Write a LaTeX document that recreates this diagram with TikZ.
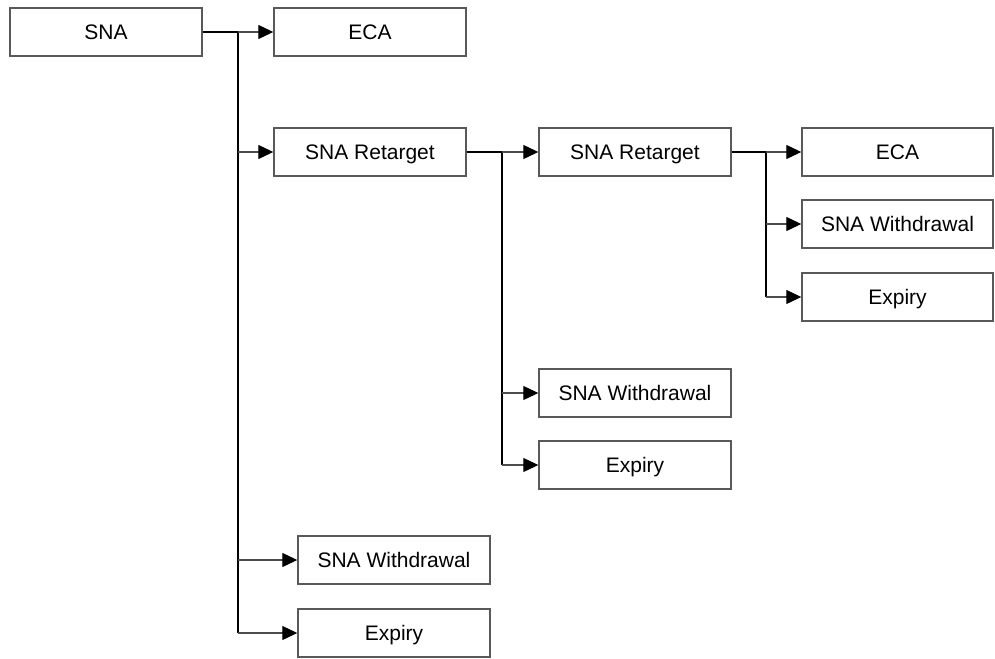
\documentclass[tikz,border=0pt]{standalone}
\usepackage{fontspec}
\setmainfont{Liberation Sans}
\usetikzlibrary{arrows.meta}
\begin{document}
\begin{tikzpicture}[x=1pt,y=-1pt,
  box/.style={draw=black!65,line width=1.4pt,fill=white,minimum width=192pt,minimum height=48pt,inner sep=0pt,
    text height=19pt,text depth=4pt,font=\fontsize{21}{25}\selectfont},
  rbox/.style={box,minimum width=191pt},
  link/.style={draw=black,line width=1.7pt},
  branch/.style={draw=black!70,line width=1.1pt,-{Triangle[length=15pt,width=14pt,color=black,fill=black]}}]
\useasboundingbox (0,0) rectangle (995,658);
\node[box] (sna) at (106,32) {SNA};
\node[box] (eca1) at (370,32) {ECA};
\node[box] (ret1) at (370,152) {SNA Retarget};
\node[box] (ret2) at (635,152) {SNA Retarget};
\node[rbox] (eca2) at (897.5,152) {ECA};
\node[rbox] (wd2) at (897.5,224) {SNA Withdrawal};
\node[rbox] (ex2) at (897.5,297) {Expiry};
\node[box] (wd1) at (635,393) {SNA Withdrawal};
\node[box] (ex1) at (635,465) {Expiry};
\node[box] (wd0) at (394,560) {SNA Withdrawal};
\node[box] (ex0) at (394,633) {Expiry};
% level 1
\coordinate (j1) at (238,32);
\draw[link] (sna.east) -- (j1) -- (j1 |- ex0.west);
\draw[branch] (j1) -- (eca1.west);
\draw[branch] (j1 |- ret1.west) -- (ret1.west);
\draw[branch] (j1 |- wd0.west) -- (wd0.west);
\draw[branch] (j1 |- ex0.west) -- (ex0.west);
% level 2
\coordinate (j2) at (502,152);
\draw[link] (ret1.east) -- (j2) -- (j2 |- ex1.west);
\draw[branch] (j2) -- (ret2.west);
\draw[branch] (j2 |- wd1.west) -- (wd1.west);
\draw[branch] (j2 |- ex1.west) -- (ex1.west);
% level 3
\coordinate (j3) at (766,152);
\draw[link] (ret2.east) -- (j3) -- (j3 |- ex2.west);
\draw[branch] (j3) -- (eca2.west);
\draw[branch] (j3 |- wd2.west) -- (wd2.west);
\draw[branch] (j3 |- ex2.west) -- (ex2.west);
\end{tikzpicture}
\end{document}
